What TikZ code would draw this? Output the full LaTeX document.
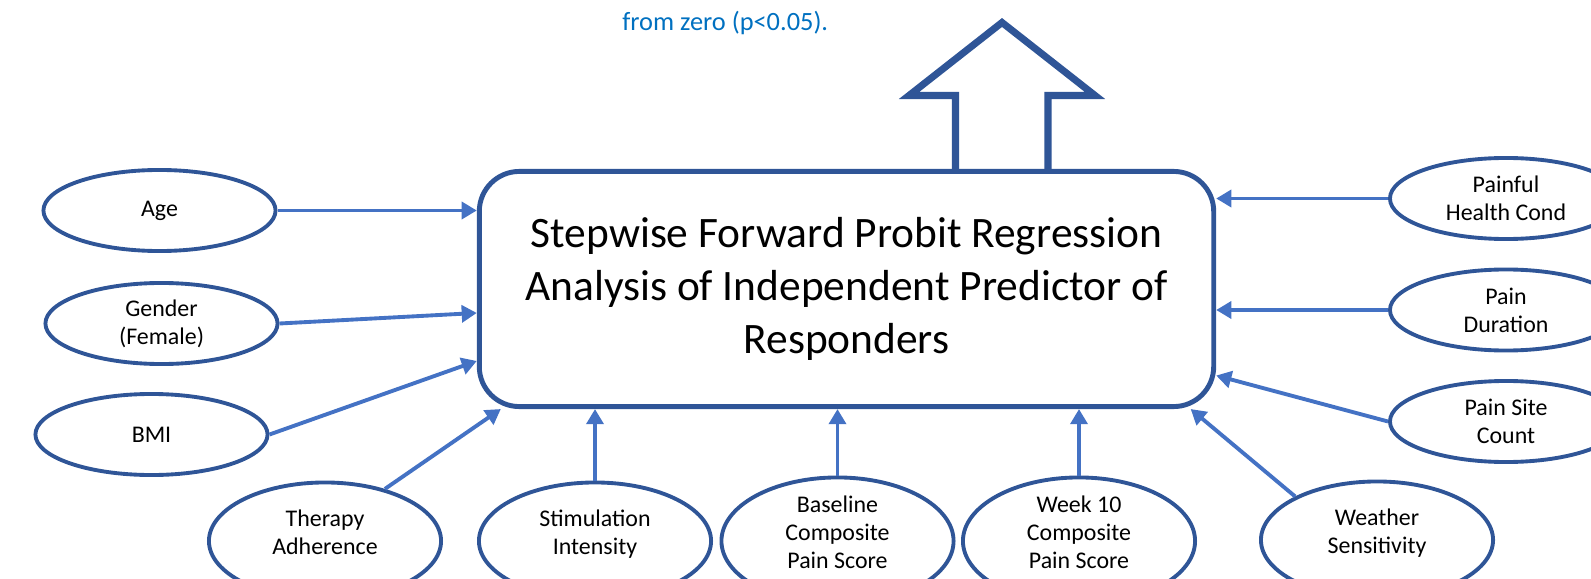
\documentclass[tikz,border=0pt]{standalone}
\usepackage{fontspec}
\setmainfont{Carlito}
\usepackage{tikz}
\usetikzlibrary{shapes.geometric, arrows.meta, positioning, calc}

\definecolor{boxblue}{HTML}{2F5597}
\definecolor{linkblue}{HTML}{4472C4}
\definecolor{noteblue}{HTML}{0070C0}

\tikzset{
    predictor/.style={draw=boxblue, line width=1.1pt, ellipse, fill=white, inner sep=0pt,
        minimum width=2.32cm, minimum height=0.81cm, align=center,
        font=\fontsize{6.8}{8}\selectfont},
    lowpred/.style={predictor, minimum height=1.17cm, text depth=0.17cm},
    link/.style={draw=linkblue, line width=1.1pt, -{Triangle[length=4.3pt, width=4.8pt]}}
}

\begin{document}
\begin{tikzpicture}[x=0.01cm, y=-0.01cm, thick]
    \useasboundingbox (0,0) rectangle (1591,579);

    % Note above the output arrow
    \node[anchor=base west, inner sep=0pt, text=noteblue, font=\fontsize{7.5}{9}\selectfont] (note) at (621, 31) {from zero (p<0.05).};

    % Output arrow
    \draw[boxblue, line width=2pt, fill=white] (955.5, 170) -- (955.5, 95.5) -- (909, 95.5) -- (1002, 22.5)
        -- (1095, 95.5) -- (1048, 95.5) -- (1048, 170);

    % Regression model
    \node[draw=boxblue, line width=1.4pt, rounded corners=0.4cm, fill=white, minimum width=7.34cm, minimum height=2.35cm,
        align=center, font=\fontsize{12.35}{15.1}\selectfont] (model) at (846.5, 289)
        {Stepwise Forward Probit Regression\\Analysis of Independent Predictor of\\Responders};

    % Predictors, left side
    \node[predictor] (age) at (159.5, 210.5) {Age};
    \node[predictor] (gender) at (161.5, 323.5) {Gender\\(Female)};
    \node[predictor] (bmi) at (151.5, 434.5) {BMI};

    % Predictors, bottom row
    \node[lowpred] (therapy) at (325, 541) {Therapy\\Adherence};
    \node[lowpred] (stim) at (595, 541) {Stimulation\\Intensity};
    \node[lowpred] (baseline) at (837.5, 541) {Baseline\\Composite\\Pain Score};
    \node[lowpred] (week) at (1079, 541) {Week 10\\Composite\\Pain Score};
    \node[lowpred] (weather) at (1377, 540) {Weather\\Sensitivity};

    % Predictors, right side
    \node[predictor] (health) at (1506, 198.5) {Painful\\Health Cond};
    \node[predictor] (duration) at (1506, 310) {Pain\\Duration};
    \node[predictor] (sites) at (1506, 421.5) {Pain Site\\Count};

    % Links into the model
    \draw[link] (age.east) -- (age.east -| model.west);
    \draw[link] (gender.east) -- ($(model.north west)+(0,144)$);
    \draw[link] (bmi.east) -- ($(model.north west)+(0,192)$);
    \draw[link] (therapy.41) -- ($(model.south west)+(24,0)$);
    \draw[link] (stim.north) -- (stim.north |- model.south);
    \draw[link] (baseline.north) -- (baseline.north |- model.south);
    \draw[link] (week.north) -- (week.north |- model.south);
    \draw[link] (weather.152) -- ($(model.south east)+(-25.5,0)$);
    \draw[link] (sites.west) -- ($(model.south east)+(0,-33.5)$);
    \draw[link] (duration.west) -- (duration.west -| model.east);
    \draw[link] (health.west) -- (health.west -| model.east);
\end{tikzpicture}
\end{document}
